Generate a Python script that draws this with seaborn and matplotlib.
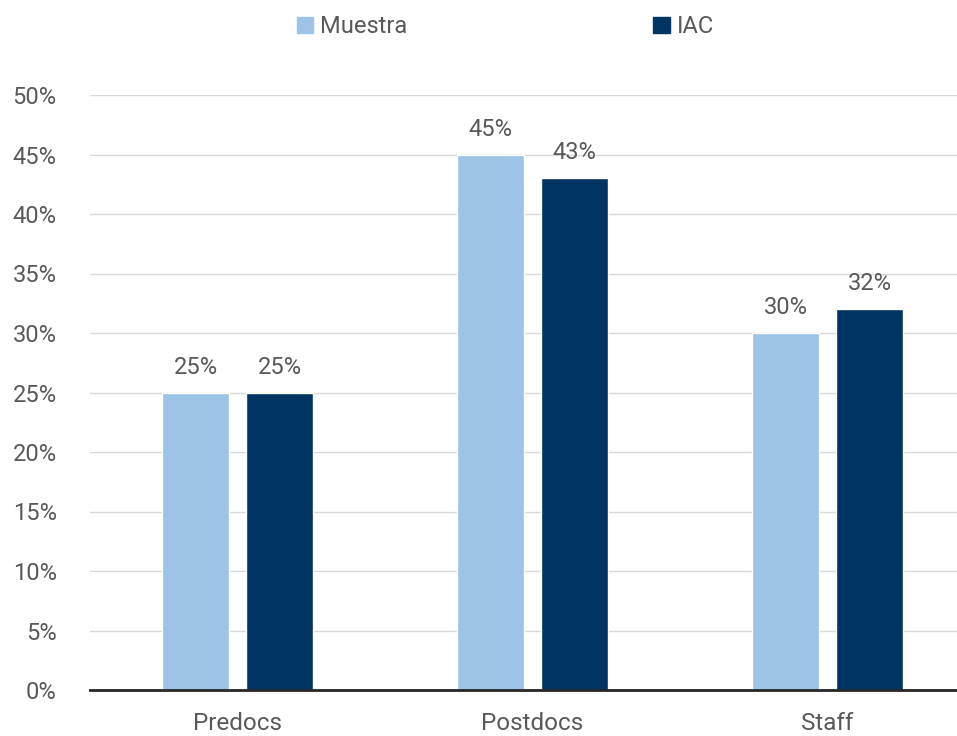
import pandas as pd
import numpy as np
import matplotlib.pyplot as plt
import seaborn as sns

# data
categories = ["Predocs", "Postdocs", "Staff"]
series = ["Muestra", "IAC"]
muestra = [25, 45, 30]
iac = [25, 43, 32]

colors = ["#9DC3E6", "#003462"]
text_color = "#595959"

df = pd.DataFrame({
    "cat": categories * 2,
    "serie": [series[0]] * 3 + [series[1]] * 3,
    "val": muestra + iac,
})

sns.set_style("white")
plt.rcParams['font.family'] = ['Roboto', 'DejaVu Sans']

fig = plt.figure(figsize=(9.57, 7.36), dpi=100)
ax = fig.add_axes([90 / 957, 1 - 690 / 736, 885 / 957, (690 - 95) / 736])

sns.barplot(data=df, x="cat", y="val", hue="serie", palette=colors,
            width=0.57, gap=0.214, ax=ax, legend=False, saturation=1)

ax.set_xlim(-0.5, 2.5)
ax.set_ylim(0, 50)
ax.set_yticks(np.arange(0, 51, 5))
ax.set_yticklabels([f"{v}%" for v in range(0, 51, 5)])
ax.yaxis.grid(True, color="#D9D9D9", linewidth=1)
ax.set_axisbelow(True)
for s in ["top", "right", "left"]:
    ax.spines[s].set_visible(False)
ax.spines["bottom"].set_color("#262626")
ax.spines["bottom"].set_linewidth(2)
ax.set_xlabel("")
ax.set_ylabel("")
ax.tick_params(axis="x", length=0, labelsize=17.5, colors=text_color, pad=16)
ax.tick_params(axis="y", length=0, labelsize=17, colors=text_color, pad=24)

for cont in ax.containers:
    ax.bar_label(cont, labels=[f"{v:.0f}%" for v in cont.datavalues],
                 padding=10, fontsize=17, color=text_color)

handles = [plt.Rectangle((0, 0), 1, 1, color=c) for c in colors]
fig.legend(handles, series, loc="upper center", bbox_to_anchor=(0.528, 1.008),
           ncol=2, frameon=False, fontsize=17, labelcolor=text_color,
           handlelength=0.7, handleheight=0.7, handletextpad=0.3,
           columnspacing=10.4)

fig.savefig("out.png", dpi=100)
